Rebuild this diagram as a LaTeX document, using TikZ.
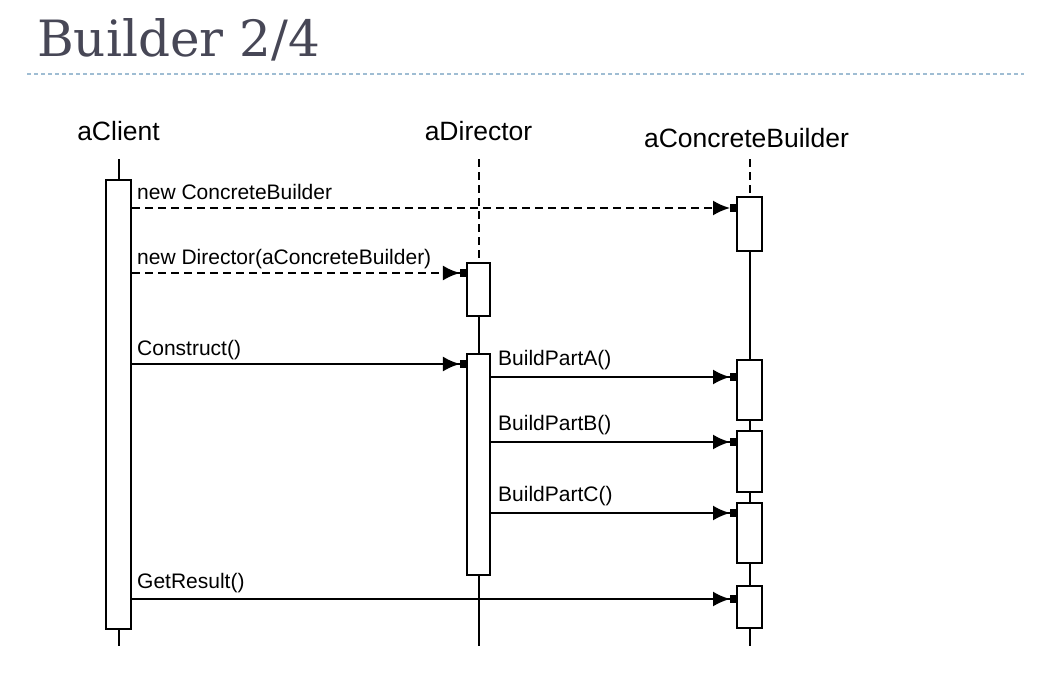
\documentclass[tikz,border=0pt]{standalone}
\usepackage{fontspec}
\newfontfamily\lsans{Liberation Sans}
\newfontfamily\tserif{DejaVu Serif}
\usetikzlibrary{arrows.meta}
\definecolor{titlegray}{HTML}{474756}
\definecolor{rulecol}{HTML}{9FBDD3}
\begin{document}
\begin{tikzpicture}[x=1pt,y=-1pt,
  act/.style={draw, line width=2pt, fill=white, inner sep=0pt, anchor=north, minimum width=25pt},
  objlabel/.style={font=\lsans\fontsize{26.5}{30}\selectfont, anchor=base, inner sep=0pt},
  msglabel/.style={font=\lsans\fontsize{21}{24}\selectfont, anchor=base west, inner sep=0pt},
  life/.style={line width=2pt},
  lifedash/.style={line width=2pt, dash pattern=on 8pt off 5pt},
  msg/.style={line width=2.2pt, -{Latex[length=17pt,width=15pt] Rectangle[length=6pt,width=8pt]}},
  msgdash/.style={msg, dash pattern=on 8pt off 5pt}
]
\useasboundingbox (0,0) rectangle (1044,685);
% title
\node[font=\tserif\fontsize{50}{58}\selectfont, text=titlegray, anchor=base west, inner sep=0pt] (title) at (37,57) {Builder 2/4};
\coordinate (ruleL) at (27,74);
\coordinate (ruleR) at (1024,74);
\draw[rulecol, line width=1.2pt, dash pattern=on 4pt off 3pt] (ruleL) -- (ruleR);

% object labels
\node[objlabel] (lClient) at (118.5,140) {aClient};
\node[objlabel] (lDirector) at (478.5,140) {aDirector};
\node[objlabel] (lBuilder) at (746.5,147) {aConcreteBuilder};

% activation boxes
\node[act, minimum height=449pt] (c1) at (118.5,179) {};
\node[act, minimum width=23.5pt, minimum height=53pt] (d1) at (478.7,262) {};
\node[act, minimum width=23.5pt, minimum height=221pt] (d2) at (478.7,353) {};
\node[act, minimum height=54pt] (b1) at (749.5,196) {};
\node[act, minimum height=60pt] (b2) at (749.5,359) {};
\node[act, minimum height=61pt] (b3) at (749.5,430) {};
\node[act, minimum height=60pt] (b4) at (749.5,502) {};
\node[act, minimum height=42pt] (b5) at (749.5,585) {};

% lifeline ends
\coordinate (cTop) at (118.5,159);
\coordinate (cBot) at (118.5,646);
\coordinate (dTop) at (478.7,159);
\coordinate (dBot) at (478.7,646);
\coordinate (bTop) at (749.5,159);
\coordinate (bBot) at (749.5,646);

% lifelines
\draw[life] (cTop) -- (c1.north);
\draw[life] (c1.south) -- (cBot);
\draw[lifedash] (dTop) -- (d1.north);
\draw[life] (d1.south) -- (d2.north);
\draw[life] (d2.south) -- (dBot);
\draw[lifedash] (bTop) -- (b1.north);
\draw[life] (b1.south) -- (b2.north);
\draw[life] (b2.south) -- (b3.north);
\draw[life] (b3.south) -- (b4.north);
\draw[life] (b4.south) -- (b5.north);
\draw[life] (b5.south) -- (bBot);

% message rows
\coordinate (m1) at (0,208);
\coordinate (m2) at (0,273);
\coordinate (m3) at (0,364);
\coordinate (m4) at (0,377);
\coordinate (m5) at (0,442);
\coordinate (m6) at (0,513);
\coordinate (m7) at (0,599);

\draw[msgdash] (c1.east |- m1) -- (b1.west |- m1);
\draw[msgdash] (c1.east |- m2) -- (d1.west |- m2);
\draw[msg] (c1.east |- m3) -- (d2.west |- m3);
\draw[msg] (d2.east |- m4) -- (b2.west |- m4);
\draw[msg] (d2.east |- m5) -- (b3.west |- m5);
\draw[msg] (d2.east |- m6) -- (b4.west |- m6);
\draw[msg] (c1.east |- m7) -- (b5.west |- m7);

% message labels
\node[msglabel] (t1) at (137,199) {new ConcreteBuilder};
\node[msglabel] (t2) at (137,264) {new Director(aConcreteBuilder)};
\node[msglabel] (t3) at (137,355) {Construct()};
\node[msglabel] (t4) at (498,365) {BuildPartA()};
\node[msglabel] (t5) at (498,430) {BuildPartB()};
\node[msglabel] (t6) at (498,501) {BuildPartC()};
\node[msglabel] (t7) at (137,588) {GetResult()};
\end{tikzpicture}
\end{document}
